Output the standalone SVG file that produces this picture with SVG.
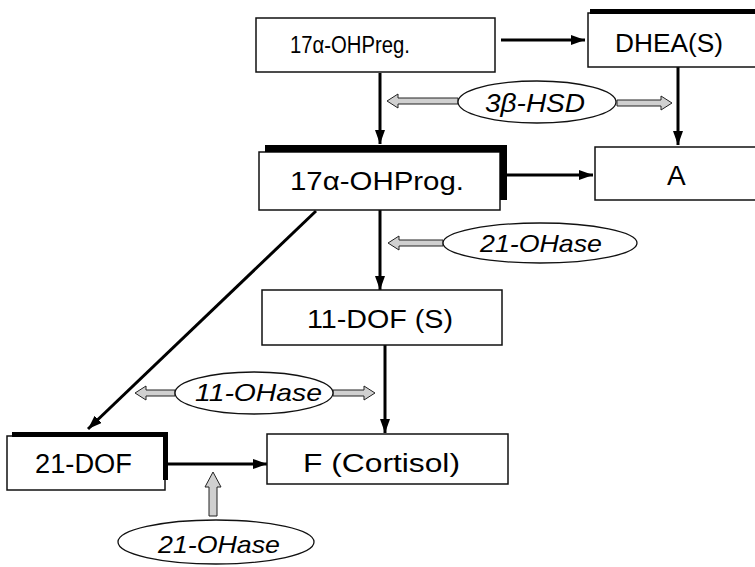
<svg xmlns="http://www.w3.org/2000/svg" width="755" height="567" viewBox="0 0 755 567">
<style>
.box{fill:#fff;stroke:#111;stroke-width:1.5}
.sh{fill:#000}
.ell{fill:#fff;stroke:#111;stroke-width:1.3}
.t{font-family:"Liberation Sans",Arial,sans-serif;fill:#000}
.i{font-style:italic}
.ln{stroke:#000;stroke-width:3;fill:none}
.ha{fill:#d0d0d0;stroke:#222;stroke-width:1}
</style>
<defs>
<marker id="ah" markerUnits="userSpaceOnUse" markerWidth="14" markerHeight="10" refX="14" refY="5" orient="auto">
<path d="M0,0 L14,5 L0,10 Z" fill="#000"/>
</marker>
</defs>
<rect width="755" height="567" fill="#fff"/>
<g id="connectors">
<path class="ln" d="M501,40 H585" marker-end="url(#ah)"/>
<path class="ln" d="M380,73 V144" marker-end="url(#ah)"/>
<path class="ln" d="M678,67 V145" marker-end="url(#ah)"/>
<path class="ln" d="M507,175 H593" marker-end="url(#ah)"/>
<path class="ln" d="M380,210 V290" marker-end="url(#ah)"/>
<path class="ln" d="M316,211 L88,429" marker-end="url(#ah)"/>
<path class="ln" d="M385,345 V433" marker-end="url(#ah)"/>
<path class="ln" d="M168,464 H267" marker-end="url(#ah)"/>
<polygon class="ha" points="458,98 398,98 398,94 387,101 398,108 398,104 458,104"/>
<polygon class="ha" points="617,100 661,100 661,96 672,103 661,110 661,106 617,106"/>
<polygon class="ha" points="443,240 399,240 399,236 388,243 399,250 399,246 443,246"/>
<polygon class="ha" points="175,390 146,390 146,386 135,393 146,400 146,396 175,396"/>
<polygon class="ha" points="333,390 364,390 364,386 375,393 364,400 364,396 333,396"/>
<polygon class="ha" points="209,516 209,487 205,487 213,472 221,487 217,487 217,516"/>
</g>
<g id="n-ohpreg">
<rect class="box" x="256" y="18" width="239" height="54"/>
<text class="t" x="290" y="53" font-size="23" textLength="120" lengthAdjust="spacingAndGlyphs">17α-OHPreg.</text>
</g>
<g id="n-dhea">
<rect class="box" x="588" y="13" width="175" height="54"/>
<rect class="sh" x="590" y="9" width="165" height="5"/>
<text class="t" x="615" y="52" font-size="26" textLength="108" lengthAdjust="spacingAndGlyphs">DHEA(S)</text>
</g>
<g id="n-ohprog">
<rect class="box" x="259" y="152" width="241" height="58"/>
<rect class="sh" x="265" y="145" width="242" height="7"/>
<rect class="sh" x="500" y="145" width="7" height="55"/>
<text class="t" x="290" y="190" font-size="25" textLength="174" lengthAdjust="spacingAndGlyphs">17α-OHProg.</text>
</g>
<g id="n-a">
<rect class="box" x="595" y="147" width="170" height="53"/>
<text class="t" x="667" y="185" font-size="28">A</text>
</g>
<g id="n-11dof">
<rect class="box" x="262" y="290" width="240" height="55"/>
<text class="t" x="307" y="328" font-size="26" textLength="146" lengthAdjust="spacingAndGlyphs">11-DOF (S)</text>
</g>
<g id="n-21dof">
<rect class="box" x="7" y="436" width="158" height="54"/>
<rect class="sh" x="12" y="432" width="156" height="5"/>
<rect class="sh" x="163" y="432" width="5" height="48"/>
<text class="t" x="35" y="473" font-size="27" textLength="97" lengthAdjust="spacingAndGlyphs">21-DOF</text>
</g>
<g id="n-f">
<rect class="box" x="267" y="434" width="241" height="50"/>
<text class="t" x="303" y="472" font-size="26" textLength="157" lengthAdjust="spacingAndGlyphs">F (Cortisol)</text>
</g>
<g id="e-3bhsd">
<ellipse class="ell" cx="537" cy="102" rx="79" ry="21"/>
<text class="t i" x="485" y="112" font-size="25" textLength="100" lengthAdjust="spacingAndGlyphs">3β-HSD</text>
</g>
<g id="e-21ohase-1">
<ellipse class="ell" cx="540" cy="243" rx="97" ry="20"/>
<text class="t i" x="480" y="252" font-size="24" textLength="122" lengthAdjust="spacingAndGlyphs">21-OHase</text>
</g>
<g id="e-11ohase">
<ellipse class="ell" cx="254" cy="393" rx="79" ry="21"/>
<text class="t i" x="195" y="401" font-size="24" textLength="127" lengthAdjust="spacingAndGlyphs">11-OHase</text>
</g>
<g id="e-21ohase-2">
<ellipse class="ell" cx="216" cy="542" rx="98" ry="22"/>
<text class="t i" x="158" y="553" font-size="24" textLength="122" lengthAdjust="spacingAndGlyphs">21-OHase</text>
</g>
</svg>
